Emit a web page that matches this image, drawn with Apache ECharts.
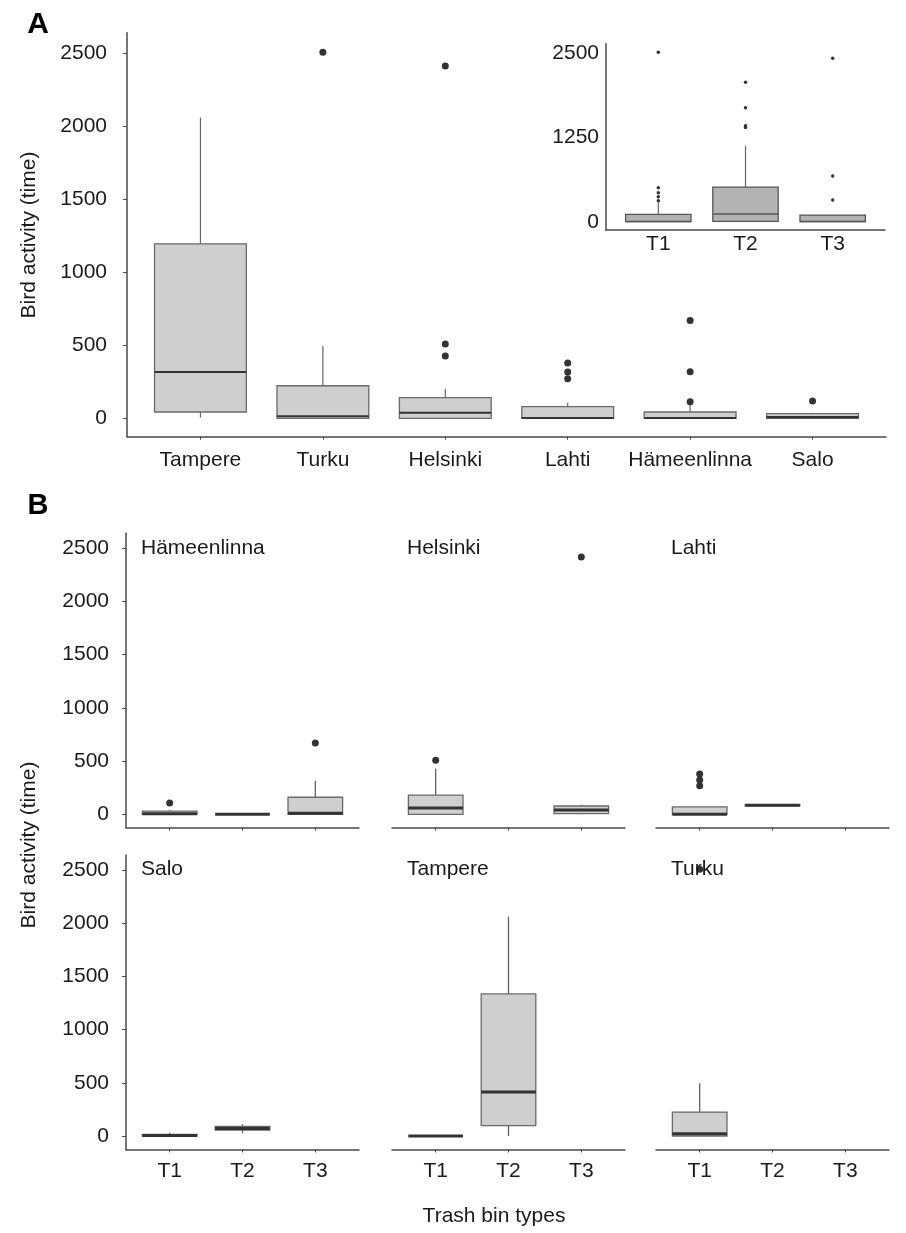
<!DOCTYPE html>
<html>
<head>
<meta charset="utf-8">
<script src="https://cdn.jsdelivr.net/npm/echarts@6/dist/echarts.min.js"></script>
<style>
html,body{margin:0;padding:0;background:#ffffff;}
#c{width:906px;height:1233px;}
</style>
</head>
<body>
<div id="c"></div>
<script>
// ---------------- DATA ----------------
// Panel A: bird activity by city, box stats = [min, Q1, median, Q3, max]
const cities = ['Tampere', 'Turku', 'Helsinki', 'Lahti', 'Hämeenlinna', 'Salo'];
const cityBoxes = [
  [5, 43, 317, 1195, 2060],
  [0, 0, 14, 223, 497],
  [0, 0, 38, 141, 203],
  [0, 0, 2, 80, 107],
  [0, 0, 2, 43, 105],
  [0, 0, 8, 32, 38]
];
const cityOutliers = [
  [],
  [2507],
  [509, 427, 2413],
  [379, 317, 271],
  [669, 319, 114],
  [118]
];

// Panel A inset: by trash bin type
const binTypes = ['T1', 'T2', 'T3'];
const binBoxes = [
  [0, 0, 5, 110, 290],
  [0, 6, 114, 514, 1124],
  [0, 0, 5, 99, 99]
];
const binOutliers = [
  [312, 372, 431, 505, 2515],
  [1400, 1425, 1693, 2069],
  [322, 678, 2425]
];

// Panel B: facets city x bin type (null = no data)
const facetCities = ['Hämeenlinna', 'Helsinki', 'Lahti', 'Salo', 'Tampere', 'Turku'];
const facetBoxes = [
  [[0, 0, 5, 30, 40], [0, 0, 0, 0, 0], [0, 0, 10, 160, 316]],
  [[0, 0, 59, 181, 429], null, [0, 6, 40, 78, 90]],
  [[0, 0, 0, 69, 69], [75, 80, 85, 90, 95], null],
  [[0, 0, 5, 14, 30], [25, 55, 70, 90, 110], null],
  [[0, 0, 0, 0, 0], [0, 97, 413, 1335, 2061], null],
  [[0, 0, 20, 225, 495], null, null]
];
const facetOutliers = [
  [[106], [], [670]],
  [[507], [], [2418]],
  [[379, 322, 269], [], []],
  [[], [], []],
  [[], [], []],
  [[2507], [], []]
];

const yTicks = [0, 500, 1000, 1500, 2000, 2500];
const yTicksInset = [0, 1250, 2500];
const yName = 'Bird activity (time)';
const xNameB = 'Trash bin types';

// ---------------- STYLE ----------------
const FONT = '"Liberation Sans", Arial, Helvetica, sans-serif';
const AXIS = '#4a4a4a';
const TXT = '#1a1a1a';
const Y_MIN = -126, Y_MAX = 2641;

const styleMain = {width: 0.75, fill: '#cfcfcf', border: '#6a6a6a', borderWidth: 1.3,
  whisker: '#666666', whiskerWidth: 1.2, median: '#333333', medianWidth: 2.2};
const styleInset = {width: 0.75, fill: '#b3b3b3', border: '#555555', borderWidth: 1.3,
  whisker: '#666666', whiskerWidth: 1.2, median: '#555555', medianWidth: 1.5};
const styleB = {width: 0.75, fill: '#cfcfcf', border: '#6a6a6a', borderWidth: 1.3,
  whisker: '#555555', whiskerWidth: 1.2, median: '#333333', medianWidth: 3};

function boxRenderer(st) {
  return function (params, api) {
    const x = api.value(0);
    const c = v => api.coord([x, v]);
    const w = api.size([st.width, 0])[0];
    const pMin = c(api.value(1)), pQ1 = c(api.value(2)), pMed = c(api.value(3));
    const pQ3 = c(api.value(4)), pMax = c(api.value(5));
    const cx = pMed[0];
    return {
      type: 'group',
      children: [
        {type: 'line', shape: {x1: cx, y1: pQ3[1], x2: cx, y2: pMax[1]},
          style: {stroke: st.whisker, lineWidth: st.whiskerWidth}},
        {type: 'line', shape: {x1: cx, y1: pQ1[1], x2: cx, y2: pMin[1]},
          style: {stroke: st.whisker, lineWidth: st.whiskerWidth}},
        {type: 'rect', shape: {x: cx - w / 2, y: pQ3[1], width: w, height: pQ1[1] - pQ3[1]},
          style: {fill: st.fill, stroke: st.border, lineWidth: st.borderWidth}},
        {type: 'line', shape: {x1: cx - w / 2, y1: pMed[1], x2: cx + w / 2, y2: pMed[1]},
          style: {stroke: st.median, lineWidth: st.medianWidth}}
      ]
    };
  };
}

const grids = [], xAxes = [], yAxes = [], series = [], graphics = [];

function addPanel(cfg) {
  const gi = grids.length;
  grids.push({left: cfg.left, top: cfg.top, width: cfg.width, height: cfg.height,
    outerBoundsMode: 'none', containLabel: false});
  const idx = cfg.labels.map((_, i) => i);
  xAxes.push({
    type: 'value', gridIndex: gi, min: -0.6, max: cfg.labels.length - 1 + 0.6,
    axisLine: {show: true, onZero: false, lineStyle: {color: AXIS, width: 1.5}},
    axisTick: {show: cfg.xTicks, length: 3, customValues: idx, lineStyle: {color: AXIS, width: 1}},
    axisLabel: {show: cfg.xLabels, customValues: idx, margin: cfg.xMargin,
      formatter: v => cfg.labels[Math.round(v)] || '',
      fontSize: 21, color: TXT, fontFamily: FONT},
    splitLine: {show: false}
  });
  yAxes.push({
    type: 'value', gridIndex: gi, min: Y_MIN, max: Y_MAX,
    axisLine: {show: cfg.yLine, onZero: false, lineStyle: {color: AXIS, width: 1.5}},
    axisTick: {show: cfg.yTicksShow, length: 4, customValues: cfg.yTickVals, lineStyle: {color: AXIS, width: 1}},
    axisLabel: {show: cfg.yLabels, customValues: cfg.yTickVals, margin: cfg.yMargin,
      formatter: v => String(Math.round(v)),
      fontSize: 21, color: TXT, fontFamily: FONT},
    splitLine: {show: false}
  });
  const boxData = [];
  const outData = [];
  cfg.boxes.forEach((b, i) => {
    if (b) boxData.push([i].concat(b));
    (cfg.outliers[i] || []).forEach(v => outData.push([i, v]));
  });
  series.push({
    type: 'custom', xAxisIndex: gi, yAxisIndex: gi, silent: true, clip: false,
    renderItem: boxRenderer(cfg.style),
    encode: {x: 0, y: [1, 2, 3, 4, 5]},
    data: boxData, z: 2
  });
  series.push({
    type: 'scatter', xAxisIndex: gi, yAxisIndex: gi, silent: true,
    symbol: 'circle', symbolSize: cfg.dotSize,
    itemStyle: {color: '#333333', opacity: 1},
    data: outData, z: 3
  });
}

// Panel A main
addPanel({left: 127, top: 32.7, width: 759, height: 404,
  labels: cities, boxes: cityBoxes, outliers: cityOutliers, style: styleMain,
  xTicks: true, xLabels: true, xMargin: 13,
  yLine: true, yTicksShow: true, yLabels: true, yTickVals: yTicks, yMargin: 20,
  dotSize: 7});

// Panel A inset
addPanel({left: 606, top: 43.8, width: 279, height: 186.4,
  labels: binTypes, boxes: binBoxes, outliers: binOutliers, style: styleInset,
  xTicks: false, xLabels: true, xMargin: 4,
  yLine: true, yTicksShow: false, yLabels: true, yTickVals: yTicksInset, yMargin: 7,
  dotSize: 3.5});

// Panel B facets
const colLeft = [126, 392, 656];
const rowTop = [533.3, 855];
const facetW = 233, facetH = 294.4;
facetCities.forEach((city, k) => {
  const r = Math.floor(k / 3), col = k % 3;
  addPanel({left: colLeft[col], top: rowTop[r], width: facetW, height: facetH,
    labels: binTypes, boxes: facetBoxes[k], outliers: facetOutliers[k], style: styleB,
    xTicks: true, xLabels: r === 1, xMargin: 11,
    yLine: col === 0, yTicksShow: col === 0, yLabels: col === 0, yTickVals: yTicks, yMargin: 17,
    dotSize: 7});
  graphics.push({type: 'text', left: colLeft[col] + 15, top: rowTop[r] + 4, z: 100,
    style: {text: city, fontSize: 21, fill: TXT, fontFamily: FONT}});
});

// Texts
graphics.push({type: 'text', x: 38, y: 25, z: 10,
  style: {text: 'A', fontSize: 30, fontWeight: 'bold', fill: '#000', fontFamily: FONT, align: 'center', verticalAlign: 'middle'}});
graphics.push({type: 'text', x: 38, y: 506, z: 10,
  style: {text: 'B', fontSize: 29, fontWeight: 'bold', fill: '#000', fontFamily: FONT, align: 'center', verticalAlign: 'middle'}});
graphics.push({type: 'text', x: 29.5, y: 235, rotation: Math.PI / 2, z: 10,
  style: {text: yName, fontSize: 21, fill: TXT, fontFamily: FONT, align: 'center', verticalAlign: 'middle'}});
graphics.push({type: 'text', x: 29.5, y: 845, rotation: Math.PI / 2, z: 10,
  style: {text: yName, fontSize: 21, fill: TXT, fontFamily: FONT, align: 'center', verticalAlign: 'middle'}});
graphics.push({type: 'text', x: 494, y: 1216, z: 10,
  style: {text: xNameB, fontSize: 21, fill: TXT, fontFamily: FONT, align: 'center', verticalAlign: 'middle'}});

const chart = echarts.init(document.getElementById('c'), null, {renderer: 'canvas'});
chart.setOption({
  animation: false,
  backgroundColor: '#ffffff',
  grid: grids,
  xAxis: xAxes,
  yAxis: yAxes,
  series: series,
  graphic: graphics
});
</script>
</body>
</html>
